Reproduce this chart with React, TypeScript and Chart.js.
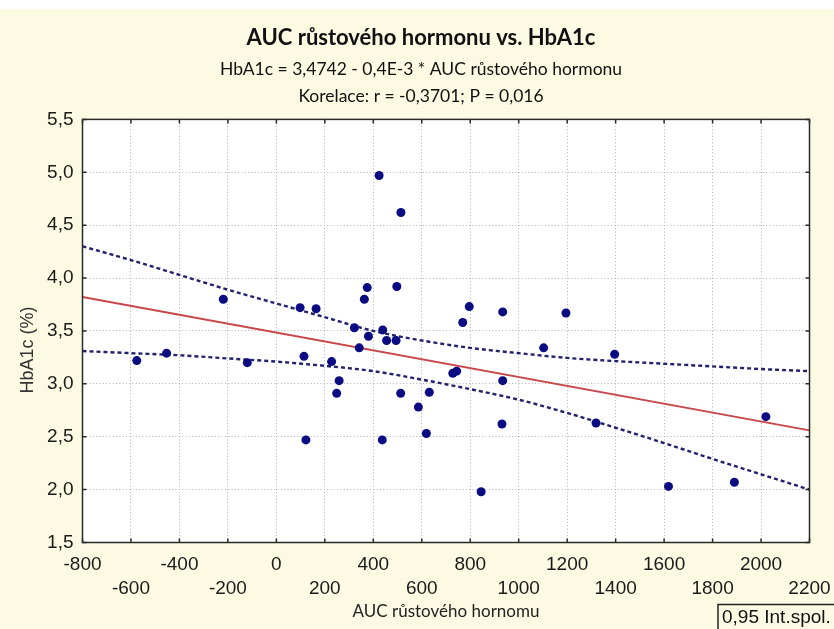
import React, { useEffect, useRef } from 'react';
import { Chart, registerables } from 'chart.js';

Chart.register(...registerables);

const titleText = 'AUC růstového hormonu vs. HbA1c';
const subtitleLines = ['HbA1c = 3,4742 - 0,4E-3 * AUC růstového hormonu', 'Korelace: r = -0,3701; P = 0,016'];
const xAxisTitle = 'AUC růstového hornomu';
const yAxisTitle = 'HbA1c (%)';
const legendLabel = '0,95 Int.spol.';

// scatter observations
const aucValues = [
  -576, -453, -219, -120, 98, 114, 122, 164, 228, 249, 259, 322, 342, 363, 375, 380, 424, 437, 439, 455, 494,
  497, 513, 514, 586, 619, 631, 728, 744, 769, 796, 845, 931, 934, 934, 1103, 1195, 1319, 1396, 1618, 1890, 2020,
];
const hba1cValues = [
  3.22, 3.29, 3.8, 3.2, 3.72, 3.26, 2.47, 3.71, 3.21, 2.91, 3.03, 3.53, 3.34, 3.8, 3.91, 3.45, 4.97, 2.47, 3.51, 3.41, 3.41,
  3.92, 2.91, 4.62, 2.78, 2.53, 2.92, 3.1, 3.12, 3.58, 3.73, 1.98, 2.62, 3.03, 3.68, 3.34, 3.67, 2.63, 3.28, 2.03, 2.07, 2.69,
];

// regression line end points
const fitX = [-800, 2200];
const fitY = [3.82, 2.56];

// 95 % confidence band read at the grid positions
const bandX = [-800, -600, -400, -200, 0, 200, 400, 600, 800, 1000, 1200, 1400, 1600, 1800, 2000, 2200];
const bandUpper = [4.3, 4.17, 4.03, 3.89, 3.76, 3.63, 3.5, 3.41, 3.34, 3.29, 3.245, 3.215, 3.19, 3.165, 3.14, 3.12];
const bandLower = [3.31, 3.29, 3.27, 3.24, 3.21, 3.17, 3.12, 3.04, 2.95, 2.85, 2.725, 2.585, 2.44, 2.29, 2.145, 2.0];

const xMin = -800;
const xMax = 2200;
const xStep = 200;
const yMin = 1.5;
const yMax = 5.5;
const yStep = 0.5;

const CREAM = '#fcfae2';
const TICK_FONT = 'Liberation Sans, Arial, sans-serif';
const TEXT_FONT = 'Lato, "Open Sans", sans-serif';

const framePlugin = {
  id: 'framePlugin',
  beforeDraw(chart: any) {
    const { ctx, chartArea: a, width, height } = chart;
    ctx.save();
    ctx.fillStyle = '#ffffff';
    ctx.fillRect(0, 0, width, height);
    ctx.fillStyle = CREAM;
    ctx.fillRect(0, 9, width, height - 9);
    ctx.fillStyle = '#ffffff';
    ctx.fillRect(a.left, a.top, a.right - a.left, a.bottom - a.top);
    ctx.restore();
  },
  afterDraw(chart: any) {
    const { ctx, chartArea: a } = chart;
    const xs = chart.scales.x;
    const ys = chart.scales.y;
    ctx.save();
    ctx.strokeStyle = '#2a2a2a';
    ctx.lineWidth = 1.5;
    ctx.strokeRect(a.left, a.top, a.right - a.left, a.bottom - a.top);
    ctx.beginPath();
    xs.ticks.forEach((t: any) => {
      const px = xs.getPixelForValue(t.value);
      ctx.moveTo(px, a.bottom);
      ctx.lineTo(px, a.bottom - 4);
      ctx.moveTo(px, a.top);
      ctx.lineTo(px, a.top + 4);
    });
    ys.ticks.forEach((t: any) => {
      const py = ys.getPixelForValue(t.value);
      ctx.moveTo(a.left, py);
      ctx.lineTo(a.left + 4, py);
      ctx.moveTo(a.right, py);
      ctx.lineTo(a.right - 4, py);
    });
    ctx.stroke();

    // y axis title
    ctx.save();
    ctx.translate(28.5, 350);
    ctx.rotate(-Math.PI / 2);
    ctx.fillStyle = '#333333';
    ctx.font = '18px ' + TICK_FONT;
    ctx.textAlign = 'center';
    ctx.textBaseline = 'middle';
    ctx.fillText(yAxisTitle, 0, 0);
    ctx.restore();

    // legend box
    ctx.strokeStyle = '#222222';
    ctx.lineWidth = 1.5;
    ctx.strokeRect(718, 604.5, 140, 40);
    ctx.fillStyle = '#111111';
    ctx.font = '19px ' + TICK_FONT;
    ctx.textAlign = 'left';
    ctx.textBaseline = 'middle';
    ctx.fillText(legendLabel, 722, 618);
    ctx.restore();
  },
};

const fmtY = (v: number) => v.toFixed(1).replace('.', ',');

export default function App() {
  const canvasRef = useRef<HTMLCanvasElement | null>(null);

  useEffect(() => {
    if (!canvasRef.current) return;
    const points = aucValues.map((x, i) => ({ x, y: hba1cValues[i] }));
    const fit = fitX.map((x, i) => ({ x, y: fitY[i] }));
    const upper = bandX.map((x, i) => ({ x, y: bandUpper[i] }));
    const lower = bandX.map((x, i) => ({ x, y: bandLower[i] }));

    const chart = new Chart(canvasRef.current, {
      type: 'scatter',
      data: {
        datasets: [
          {
            data: points,
            backgroundColor: '#0c0c82',
            borderColor: '#0c0c82',
            pointRadius: 4.5,
            pointBorderWidth: 0,
          },
          {
            data: fit,
            showLine: true,
            borderColor: '#c8474a',
            borderWidth: 2,
            pointRadius: 0,
          },
          {
            data: upper,
            showLine: true,
            borderColor: '#22226e',
            borderWidth: 2.4,
            borderDash: [4, 3],
            pointRadius: 0,
            cubicInterpolationMode: 'monotone',
          },
          {
            data: lower,
            showLine: true,
            borderColor: '#22226e',
            borderWidth: 2.4,
            borderDash: [4, 3],
            pointRadius: 0,
            cubicInterpolationMode: 'monotone',
          },
        ],
      },
      options: {
        animation: false,
        responsive: false,
        layout: { padding: { left: 8, right: 0, top: 0, bottom: 0 } },
        plugins: {
          legend: { display: false },
          tooltip: { enabled: false },
          title: {
            display: true,
            text: titleText,
            color: '#111111',
            font: { family: TEXT_FONT, size: 22, weight: 'bold', lineHeight: 1.2 },
            padding: { top: 25, bottom: 4.2 },
          },
          subtitle: {
            display: true,
            text: subtitleLines,
            color: '#111111',
            font: { family: TEXT_FONT, size: 17.5, lineHeight: '27px' },
            padding: { top: 0, bottom: 9.8 },
          },
        },
        scales: {
          x: {
            type: 'linear',
            min: xMin,
            max: xMax,
            afterFit: (s: any) => {
              s.height = 86.5;
              s.paddingLeft = 0;
              s.paddingRight = 0;
            },
            ticks: {
              stepSize: xStep,
              autoSkip: false,
              maxRotation: 0,
              padding: 10,
              color: '#1a1a1a',
              font: { family: TICK_FONT, size: 19, lineHeight: '24px' },
              callback: (v: any, i: number) => {
                const label = String(v);
                return i % 2 === 0 ? label : ['', label];
              },
            },
            grid: { color: '#b0b0b0', lineWidth: 1, drawTicks: false },
            border: { display: false, dash: [1, 2.3] },
            title: {
              display: true,
              text: xAxisTitle,
              color: '#222222',
              font: { family: TEXT_FONT, size: 17, lineHeight: '18px' },
              padding: { top: 0, bottom: 8 },
            },
          },
          y: {
            type: 'linear',
            min: yMin,
            max: yMax,
            afterFit: (s: any) => {
              s.width = 74.5;
            },
            ticks: {
              stepSize: yStep,
              padding: 9,
              color: '#1a1a1a',
              font: { family: TICK_FONT, size: 19 },
              callback: (v: any) => fmtY(Number(v)),
            },
            grid: { color: '#b0b0b0', lineWidth: 1, drawTicks: false },
            border: { display: false, dash: [1, 2.3] },
          },
          yRight: {
            type: 'linear',
            position: 'right',
            min: yMin,
            max: yMax,
            afterFit: (s: any) => {
              s.width = 24.5;
              s.paddingTop = 0;
              s.paddingBottom = 0;
            },
            ticks: { display: false },
            grid: { display: false, drawTicks: false },
            border: { display: false },
          },
        },
      },
      plugins: [framePlugin],
    } as any);

    return () => chart.destroy();
  }, []);

  return (
    <div style={{ position: 'absolute', left: 0, top: 0, width: 834, height: 629 }}>
      <canvas ref={canvasRef} width={834} height={629} />
    </div>
  );
}
